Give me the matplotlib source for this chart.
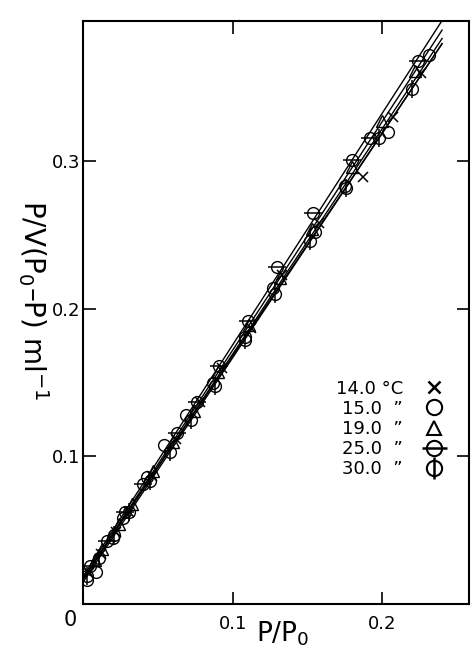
import numpy as np
import matplotlib.pyplot as plt
from matplotlib.lines import Line2D
from matplotlib.legend_handler import HandlerTuple

plt.rcParams['font.family'] = ['DejaVu Sans']

# BET-Auftragung: P/P0 gegen P/V(P0-P) fuer fuenf Temperaturen
temps = ["14.0 \u00b0C", "15.0  \u201d", "19.0  \u201d", "25.0  \u201d", "30.0  \u201d"]

x_14 = [0.004, 0.012, 0.022, 0.031, 0.046, 0.062, 0.078, 0.093, 0.112, 0.133, 0.158, 0.187, 0.207, 0.226]
y_14 = [0.021, 0.034, 0.049, 0.062, 0.087, 0.112, 0.137, 0.160, 0.187, 0.223, 0.258, 0.289, 0.330, 0.360]

x_15 = [0.003, 0.009, 0.020, 0.027, 0.043, 0.054, 0.069, 0.087, 0.108, 0.127, 0.155, 0.175, 0.204, 0.231]
y_15 = [0.016, 0.022, 0.045, 0.058, 0.086, 0.108, 0.128, 0.150, 0.181, 0.214, 0.252, 0.283, 0.320, 0.372]

x_19 = [0.008, 0.013, 0.024, 0.033, 0.047, 0.060, 0.074, 0.090, 0.111, 0.132, 0.153, 0.180, 0.200, 0.222]
y_19 = [0.030, 0.037, 0.054, 0.068, 0.090, 0.110, 0.131, 0.157, 0.189, 0.221, 0.254, 0.296, 0.327, 0.361]

x_25 = [0.005, 0.016, 0.028, 0.040, 0.063, 0.076, 0.091, 0.110, 0.130, 0.154, 0.180, 0.192, 0.224]
y_25 = [0.026, 0.043, 0.062, 0.081, 0.116, 0.137, 0.161, 0.192, 0.228, 0.265, 0.301, 0.316, 0.368]

x_30 = [0.003, 0.011, 0.021, 0.031, 0.045, 0.058, 0.072, 0.088, 0.108, 0.128, 0.152, 0.176, 0.198, 0.220]
y_30 = [0.019, 0.031, 0.047, 0.062, 0.083, 0.103, 0.125, 0.148, 0.179, 0.210, 0.246, 0.282, 0.316, 0.349]

reihen = [(x_14, y_14), (x_15, y_15), (x_19, y_19), (x_25, y_25), (x_30, y_30)]

fig = plt.figure(figsize=(4.71, 6.48), dpi=100)
ax = fig.add_axes([83/471, 44/648, 386/471, 583/648])

# Ausgleichsgeraden
x_fit = np.array([0.0, 0.24])
for xs, ys in reihen:
    m, b = np.polyfit(xs, ys, 1)
    ax.plot(x_fit, m * x_fit + b, color="black", lw=1.0, zorder=1)

mk = dict(color="black", linestyle="none", zorder=3)
ax.plot(x_14, y_14, marker="x", ms=7, mew=1.1, **mk)
ax.plot(x_15, y_15, marker="o", ms=8.5, mfc="none", mew=1.0, **mk)
ax.plot(x_19, y_19, marker="^", ms=8, mfc="none", mew=1.0, **mk)
ax.plot(x_25, y_25, marker="o", ms=8.5, mfc="none", mew=1.0, **mk)
ax.plot(x_25, y_25, marker="_", ms=13, mew=1.1, **mk)
ax.plot(x_30, y_30, marker="o", ms=8.5, mfc="none", mew=1.0, **mk)
ax.plot(x_30, y_30, marker="|", ms=13, mew=1.1, **mk)

# Legende (Marker rechts vom Text)
h_kreis = dict(color="black", linestyle="none", mfc="none", mew=1.5)
handles = [
    Line2D([], [], marker="x", ms=9, color="black", linestyle="none", mew=1.8),
    Line2D([], [], marker="o", ms=11, **h_kreis),
    Line2D([], [], marker="^", ms=10, **h_kreis),
    (Line2D([], [], marker="o", ms=11, **h_kreis),
     Line2D([], [], marker="_", ms=18, color="black", linestyle="none", mew=1.8)),
    (Line2D([], [], marker="o", ms=11, **h_kreis),
     Line2D([], [], marker="|", ms=16, color="black", linestyle="none", mew=1.8)),
]
ax.legend(handles, temps, loc="upper left", bbox_to_anchor=(0.655, 0.385),
          frameon=False, markerfirst=False, fontsize=13, handlelength=1.2,
          handletextpad=1.1, labelspacing=0.12, borderpad=0, borderaxespad=0,
          handler_map={tuple: HandlerTuple(ndivide=1)})

ax.set_xlim(0, 0.258)
ax.set_ylim(0, 0.395)
ax.set_xticks([0.1, 0.2])
ax.set_xticklabels(["0.1", "0.2"])
ax.set_yticks([0.1, 0.2, 0.3])
ax.set_yticklabels(["0.1", "0.2", "0.3"])
ax.tick_params(direction="in", length=9, width=1.2, labelsize=13,
               top=True, right=True, pad=8)
ax.tick_params(axis="y", pad=2)
for s in ax.spines.values():
    s.set_linewidth(1.5)

ax.text(-0.004, -0.004, "0", ha="right", va="top", fontsize=15)
fig.text(283/471, 1 - 634/648, "P/P$_0$", ha="center", va="center", fontsize=19)
fig.text(33/471, 1 - 300/648, "P/V(P$_0$\u2013P) ml$^{-1}$", ha="center", va="center",
         rotation=-90, fontsize=20)

fig.savefig("out.png", dpi=100)
